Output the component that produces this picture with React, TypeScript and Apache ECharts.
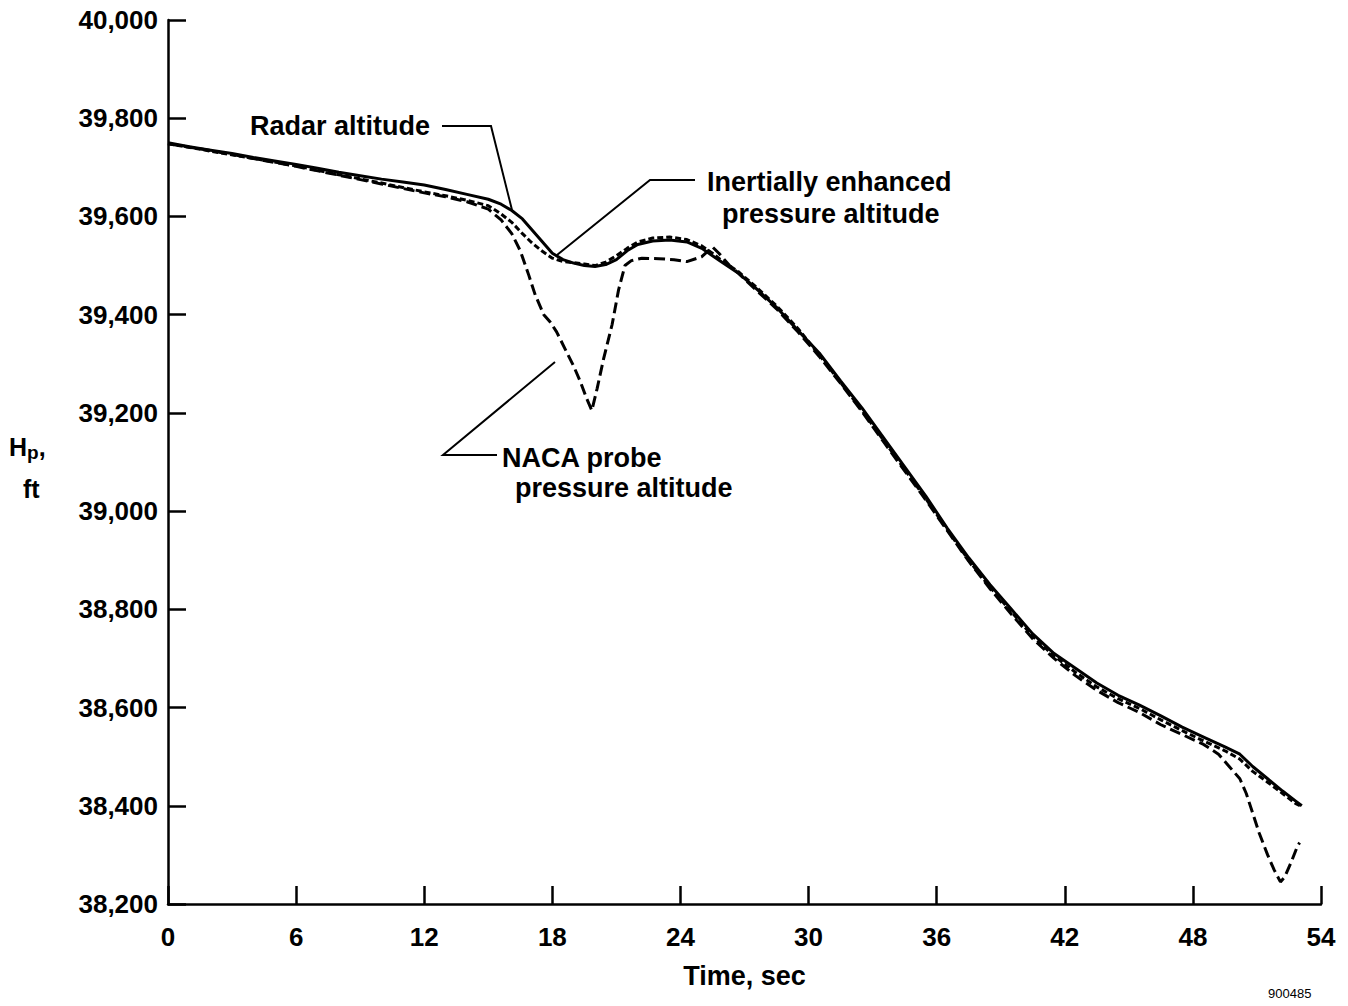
import React, { useEffect, useRef } from "react";
import * as echarts from "echarts";

// ---- Data ----
const xTicks = [0, 6, 12, 18, 24, 30, 36, 42, 48, 54];
const yTicks = [38200, 38400, 38600, 38800, 39000, 39200, 39400, 39600, 39800, 40000];

const radarT = [0, 1, 2, 3, 4, 5, 6, 7, 8, 9, 10, 11, 12, 13, 14, 15, 15.6, 16.1, 16.6, 17, 17.5, 18, 18.5, 19, 19.5, 20, 20.5, 21, 21.5, 22, 22.7, 23.5, 24.3, 25, 25.5, 26, 26.7, 27.5, 28.5, 29.5, 30.5, 31.5, 32.5, 33.5, 34.5, 35.5, 36.5, 37.5, 38.5, 39.5, 40.5, 41.5, 42.5, 43.5, 44.5, 45.5, 46.5, 47.5, 48.5, 49.5, 50.2, 50.8, 51.5, 52.2, 52.8, 53.1];
const radarH = [39750, 39742, 39735, 39728, 39720, 39713, 39706, 39698, 39690, 39683, 39676, 39670, 39664, 39655, 39645, 39635, 39625, 39612, 39595, 39575, 39550, 39525, 39512, 39505, 39500, 39498, 39502, 39512, 39530, 39543, 39550, 39552, 39548, 39535, 39520, 39505, 39485, 39455, 39415, 39368, 39322, 39265, 39210, 39150, 39090, 39030, 38965, 38905, 38850, 38800, 38750, 38710, 38680, 38650, 38625, 38605, 38583, 38560, 38540, 38520, 38505, 38480, 38455, 38430, 38410, 38400];

const inertialT = [0, 2, 4, 6, 8, 10, 12, 13, 14, 15, 15.6, 16.1, 16.6, 17, 17.5, 18, 18.5, 19, 19.5, 20, 20.5, 21, 21.5, 22, 22.7, 23.5, 24.3, 25, 25.5, 26, 26.7, 27.5, 28.5, 29.5, 30.5, 31.5, 32.5, 33.5, 34.5, 35.5, 36.5, 37.5, 38.5, 39.5, 40.5, 41.5, 42.5, 43.5, 44.5, 45.5, 46.5, 47.5, 48.5, 49.5, 50.2, 50.8, 51.5, 52.2, 52.8, 53.1];
const inertialH = [39748, 39733, 39718, 39703, 39685, 39668, 39650, 39642, 39633, 39622, 39605, 39588, 39565, 39548, 39530, 39515, 39508, 39506, 39503, 39500, 39507, 39520, 39535, 39548, 39556, 39558, 39553, 39540, 39525, 39508, 39488, 39458, 39418, 39372, 39318, 39262, 39205, 39145, 39085, 39025, 38962, 38900, 38845, 38795, 38745, 38705, 38672, 38642, 38618, 38598, 38575, 38553, 38532, 38512, 38495, 38470, 38448, 38425, 38405, 38398];

const nacaT = [0, 2, 4, 6, 8, 10, 12, 13, 14, 15, 15.6, 16.1, 16.5, 16.9, 17.2, 17.6, 17.9, 18.2, 18.6, 19, 19.3, 19.6, 19.85, 20.1, 20.4, 20.8, 21.1, 21.4, 21.7, 22.2, 23, 23.7, 24.3, 25, 25.5, 25.8, 26.3, 26.7, 27.5, 28.5, 29.5, 30.5, 31.5, 32.5, 33.5, 34.5, 35.5, 36.5, 37.5, 38.5, 39.5, 40.5, 41.5, 42.5, 43.5, 44.5, 45.5, 46.5, 47.5, 48.5, 49.2, 49.7, 50.2, 50.5, 50.8, 51.1, 51.5, 51.8, 52.1, 52.3, 52.6, 52.9, 53];
const nacaH = [39748, 39734, 39718, 39702, 39684, 39666, 39648, 39640, 39630, 39615, 39593, 39565, 39530, 39480, 39440, 39400, 39385, 39365, 39330, 39295, 39265, 39230, 39205, 39250, 39310, 39380, 39450, 39500, 39510, 39515, 39514, 39512, 39508, 39518, 39538, 39525, 39500, 39485, 39452, 39412, 39365, 39315, 39260, 39203, 39142, 39082, 39022, 38960, 38898, 38842, 38790, 38740, 38700, 38665, 38635, 38610, 38590, 38565, 38545, 38525, 38505, 38480, 38455, 38425, 38385, 38345, 38300, 38270, 38245, 38255, 38285, 38318, 38325];

const zip = (t: number[], h: number[]) => t.map((v, i) => [v, h[i]]);

const FONT = "'Liberation Sans', Arial, Helvetica, sans-serif";

export default function App() {
  const ref = useRef<HTMLDivElement>(null);
  useEffect(() => {
    if (!ref.current) return;
    const chart = echarts.init(ref.current, undefined, { renderer: "svg" });
    const txt = { fontFamily: FONT, fontWeight: "bold" as const, fontSize: 27, fill: "#000" };
    chart.setOption({
      animation: false,
      backgroundColor: "#fff",
      grid: { left: 168, right: 27, top: 20, bottom: 102, containLabel: false },
      xAxis: {
        type: "value",
        min: xTicks[0],
        max: xTicks[xTicks.length - 1],
        interval: 6,
        name: "Time, sec",
        nameLocation: "middle",
        nameGap: 58,
        nameTextStyle: { fontFamily: FONT, fontWeight: "bold", fontSize: 27, color: "#000" },
        axisLine: { lineStyle: { color: "#000", width: 2.5 } },
        axisTick: { inside: true, length: 18, lineStyle: { color: "#000", width: 2.5 } },
        axisLabel: { fontFamily: FONT, fontWeight: "bold", fontSize: 26, color: "#000", margin: 20 },
        splitLine: { show: false },
      },
      yAxis: {
        type: "value",
        min: yTicks[0],
        max: yTicks[yTicks.length - 1],
        interval: 200,
        axisLine: { show: true, lineStyle: { color: "#000", width: 2.5 } },
        axisTick: { show: true, inside: true, length: 18, lineStyle: { color: "#000", width: 2.5 } },
        axisLabel: {
          fontFamily: FONT, fontWeight: "bold", fontSize: 26, color: "#000", margin: 10,
          formatter: (v: number) => v.toLocaleString("en-US"),
        },
        splitLine: { show: false },
      },
      series: [
        {
          name: "Radar altitude", type: "line", data: zip(radarT, radarH), symbol: "none",
          lineStyle: { color: "#000", width: 3 },
        },
        {
          name: "Inertially enhanced pressure altitude", type: "line", data: zip(inertialT, inertialH), symbol: "none",
          lineStyle: { color: "#000", width: 3, type: [6, 3] },
        },
        {
          name: "NACA probe pressure altitude", type: "line", data: zip(nacaT, nacaH), symbol: "none",
          lineStyle: { color: "#000", width: 3, type: [11, 5] },
        },
      ],
      graphic: [
        { type: "text", left: 250, top: 112, style: { ...txt, text: "Radar altitude" } },
        { type: "polyline", shape: { points: [[442, 126], [491, 126], [512, 210]] }, style: { stroke: "#000", lineWidth: 2, fill: "none" } },
        { type: "text", left: 707, top: 168, style: { ...txt, text: "Inertially enhanced" } },
        { type: "text", left: 722, top: 200, style: { ...txt, text: "pressure altitude" } },
        { type: "polyline", shape: { points: [[695, 180], [650, 180], [557, 255]] }, style: { stroke: "#000", lineWidth: 2, fill: "none" } },
        { type: "text", left: 502, top: 444, style: { ...txt, text: "NACA probe" } },
        { type: "text", left: 515, top: 474, style: { ...txt, text: "pressure altitude" } },
        { type: "polyline", shape: { points: [[497, 455], [443, 455], [555, 362]] }, style: { stroke: "#000", lineWidth: 2, fill: "none" } },
        {
          type: "text", left: 9, top: 434,
          style: {
            text: "{a|H}{b|p}{a|,}",
            rich: {
              a: { fontFamily: FONT, fontWeight: "bold", fontSize: 25, fill: "#000", color: "#000" },
              b: { fontFamily: FONT, fontWeight: "bold", fontSize: 19, fill: "#000", color: "#000", padding: [12, 0, 0, 0] },
            },
          },
        },
        { type: "text", left: 23, top: 476, style: { fontFamily: FONT, fontWeight: "bold", fontSize: 25, fill: "#000", text: "ft" } },
        { type: "text", left: 1268, top: 987, style: { fontFamily: FONT, fontSize: 13, fill: "#000", text: "900485" } },
      ],
    });
    return () => chart.dispose();
  }, []);
  return <div ref={ref} style={{ position: "fixed", left: 0, top: 0, width: 1348, height: 1006, background: "#fff" }} />;
}
